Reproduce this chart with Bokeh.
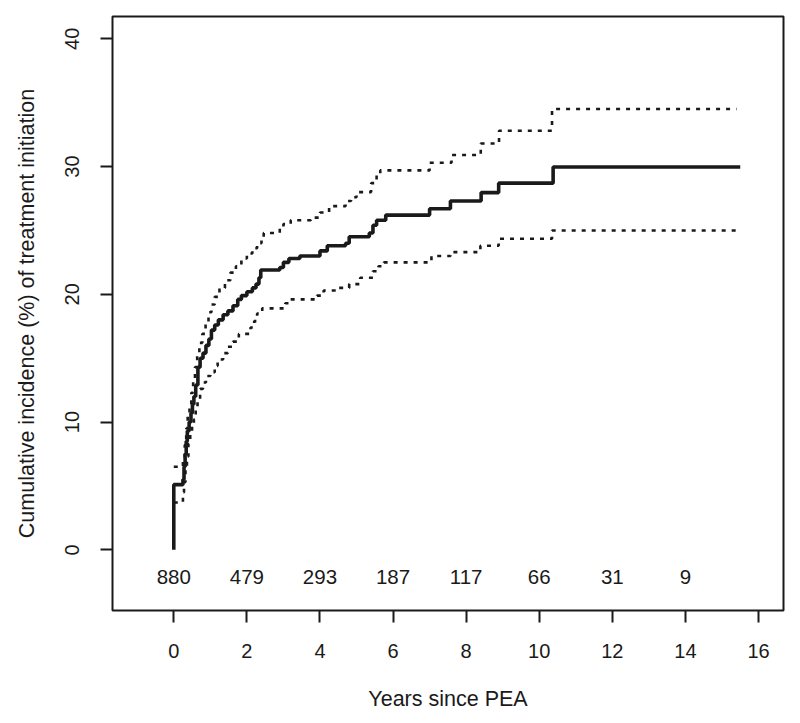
from bokeh.plotting import figure
from bokeh.models import Range1d, FixedTicker
from bokeh.core.properties import value
from bokeh.embed import file_html
from bokeh.resources import INLINE

# Cumulative incidence estimate (step function, value after each time)
main_t = [0, 0, 0.25, 0.28, 0.31, 0.34, 0.37, 0.42, 0.47, 0.51, 0.55, 0.60, 0.66, 0.72,
          0.80, 0.88, 0.96, 1.03, 1.12, 1.22, 1.35, 1.48, 1.62, 1.75, 1.85, 2.0, 2.15,
          2.25, 2.33, 2.38, 2.9, 3.0, 3.15, 3.45, 4.0, 4.2, 4.7, 4.8, 5.35, 5.45, 5.55,
          5.8, 7.0, 7.57, 8.41, 8.89, 10.38, 15.5]
main_ci = [0, 5.1, 5.5, 6.5, 7.5, 8.5, 9.3, 10.0, 10.7, 11.4, 12.0, 12.9, 14.3, 15.0,
           15.4, 16.0, 16.5, 17.2, 17.6, 18.0, 18.4, 18.7, 19.1, 19.6, 19.9, 20.2, 20.5,
           20.8, 21.3, 21.9, 22.1, 22.5, 22.8, 23.0, 23.4, 23.8, 24.0, 24.5, 24.8, 25.4, 25.8,
           26.2, 26.7, 27.3, 27.96, 28.7, 29.96, 29.96]

# Upper confidence bound
upper_t = [0, 0.25, 0.30, 0.34, 0.38, 0.43, 0.48, 0.53, 0.58, 0.64, 0.70, 0.78, 0.87,
           0.95, 1.03, 1.12, 1.25, 1.4, 1.55, 1.7, 1.85, 2.0, 2.15, 2.28, 2.40, 2.46, 2.9,
           3.0, 3.2, 3.75, 4.0, 4.25, 4.7, 4.85, 5.0, 5.4, 5.55, 5.65, 7.0, 7.6, 8.4, 8.9,
           10.35, 15.4]
upper_ci = [6.5, 7.0, 8.2, 9.5, 10.5, 11.3, 12.3, 13.4, 14.3, 15.3, 16.2, 16.9, 17.7,
            18.6, 19.2, 19.8, 20.5, 21.1, 21.7, 22.2, 22.8, 23.2, 23.6, 24.0, 24.5, 24.8, 25.2,
            25.5, 25.8, 26.0, 26.4, 26.9, 27.3, 27.6, 28.0, 28.7, 29.4, 29.7, 30.3, 30.9, 31.8, 32.8,
            34.5, 34.5]

# Lower confidence bound
lower_t = [0, 0.25, 0.28, 0.32, 0.36, 0.40, 0.45, 0.50, 0.55, 0.60, 0.65, 0.72, 0.80,
           0.88, 1.0, 1.12, 1.2, 1.35, 1.48, 1.62, 1.78, 2.1, 2.2, 2.28, 2.42, 3.05, 3.15,
           3.92, 4.1, 4.5, 4.8, 5.1, 5.45, 5.6, 5.75, 7.05, 7.57, 8.39, 8.89, 10.35, 15.4]
lower_ci = [3.7, 4.5, 5.3, 6.3, 7.3, 8.3, 9.0, 9.7, 10.2, 11.0, 11.8, 12.6, 13.1,
            13.6, 13.9, 14.4, 14.9, 15.4, 15.9, 16.3, 16.9, 17.4, 17.9, 18.5, 18.9, 19.3, 19.6,
            19.9, 20.3, 20.5, 20.8, 21.3, 21.8, 22.2, 22.5, 23.0, 23.3, 23.8, 24.35, 25.0, 25.0]

# Numbers at risk
risk_t = [0, 2, 4, 6, 8, 10, 12, 14]
risk_n = ["880", "479", "293", "187", "117", "66", "31", "9"]
risk_y = -2.15

x_ticks = [0, 2, 4, 6, 8, 10, 12, 14, 16]
y_ticks = [0, 10, 20, 30, 40]

FONT = "Liberation Sans"
INK = "#1a1a1a"

p = figure(width=798, height=715, output_backend="svg", toolbar_location=None,
           x_range=Range1d(-1.677, 16.684), y_range=Range1d(-4.75, 41.746),
           min_border_left=112, min_border_right=15, min_border_top=16, min_border_bottom=105)

p.grid.visible = False
p.background_fill_color = "white"
p.border_fill_color = "white"
p.outline_line_color = INK
p.outline_line_width = 2

for ax in (p.xaxis[0], p.yaxis[0]):
    ax.axis_line_color = None
    ax.major_tick_line_color = INK
    ax.major_tick_line_width = 2
    ax.major_tick_out = 12
    ax.major_tick_in = 0
    ax.minor_tick_line_color = None
    ax.major_label_text_font = FONT
    ax.major_label_text_font_size = "20px"
    ax.major_label_text_color = INK
    ax.axis_label_text_font = FONT
    ax.axis_label_text_font_size = "21.5px"
    ax.axis_label_text_font_style = "normal"
    ax.axis_label_text_color = INK

p.xaxis.ticker = FixedTicker(ticks=x_ticks)
p.yaxis.ticker = FixedTicker(ticks=y_ticks)
p.yaxis.major_label_orientation = "vertical"
p.xaxis.axis_label = "Years since PEA"
p.yaxis.axis_label = "Cumulative incidence (%) of treatment initiation"
p.xaxis.major_label_standoff = 21
p.yaxis.major_label_standoff = 21
p.xaxis.axis_label_standoff = 26
p.yaxis.axis_label_standoff = 24

p.step(upper_t, upper_ci, mode="after", line_color=INK, line_width=2.6, line_dash="4 6")
p.step(lower_t, lower_ci, mode="after", line_color=INK, line_width=2.6, line_dash="4 6")
p.step(main_t, main_ci, mode="after", line_color=INK, line_width=3.6)

p.text(x=risk_t, y=[risk_y] * len(risk_t), text=risk_n, text_align="center",
       text_baseline="middle", text_font=value(FONT), text_font_size="20.5px", text_color=INK)

open("out.html", "w").write(file_html(p, INLINE))
